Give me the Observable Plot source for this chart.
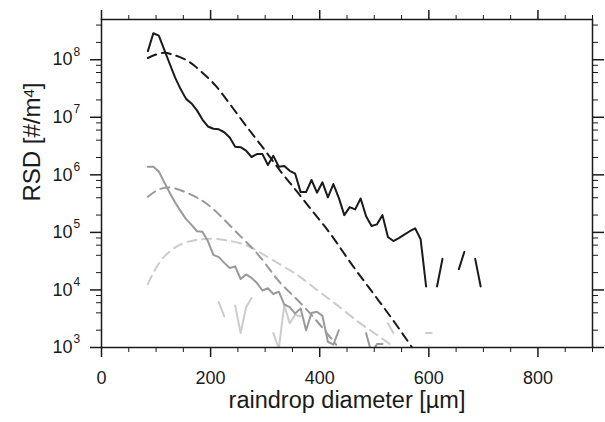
<!DOCTYPE html>
<html><head><meta charset="utf-8">
<script src="https://cdn.jsdelivr.net/npm/d3@7"></script>
<script src="https://cdn.jsdelivr.net/npm/@observablehq/plot@0.6"></script>
<style>body{margin:0;background:#fff;} svg{display:block;font-family:"Liberation Sans",Arial,sans-serif}</style>
</head><body><div id="chart"></div>
<script>
// bin centres (µm)
const diameters = [85,95,105,115,125,135,145,155,165,175,185,195,205,215,225,235,245,255,265,275,285,295,305,315,325,335,345,355,365,375,385,395,405,415,425,435,445,455,465,475,485,495,505,515,525,535,545,555,565,575,585,595,605,615,625,635,645,655,665,675,685,695];
// observed RSD, log10 values (null = no drops)
const obsBlackLog = [8.15,8.46,8.42,8.175,7.93,7.69,7.49,7.32,7.24,7.12,6.96,6.84,6.80,6.79,6.74,6.65,6.49,6.48,6.42,6.31,6.36,6.36,6.17,6.33,6.14,6.155,6.07,6.02,5.70,5.70,5.91,5.69,5.87,5.61,5.84,5.60,5.30,5.44,5.40,5.59,5.28,5.11,5.14,5.30,4.92,4.85,4.90,4.96,5.02,5.07,4.88,4.06,null,4.06,4.54,null,null,4.36,4.66,null,4.54,4.06];
const obsGreyLog = [6.14,6.14,6.06,5.87,5.69,5.52,5.37,5.23,5.13,5.02,5.01,4.85,4.61,4.57,4.47,4.38,4.41,4.19,4.27,4.21,4.12,3.99,4.03,3.93,3.97,3.75,3.70,3.59,3.68,3.30,3.60,3.62,3.55,3.10,3.05,3.30,null,null,null,null,3.25,2.90,3.06,3.06,null,null,null,null,null,null,null,null,null,null,null,null,null,null,null,null,null,null];
const obsLightLog = [null,null,null,null,null,null,null,null,null,null,null,null,null,3.79,3.54,null,3.73,3.25,3.70,3.86,null,null,null,3.25,2.98,3.74,3.42,3.57,3.54,null,null,null,null,null,null,null,null,null,null,null,null,null,null,null,3.42,3.25,null,null,null,null,null,3.25,3.25,null,null,null,null,null,null,null,null,null];
// fitted curves: diameter (µm) and log10 RSD
const fitBlackD = [85,100,115,130,150,170,190,210,240,270,300,330,360,390,420,450,480,510,540,570];
const fitBlackLog = [8.03,8.09,8.12,8.09,8.02,7.90,7.73,7.54,7.17,6.79,6.42,6.04,5.69,5.33,4.97,4.56,4.17,3.79,3.40,2.99];
const fitGreyD = [85,100,126,163,194,224,255,279,304,328,362,400,430];
const fitGreyLog = [5.62,5.72,5.78,5.66,5.49,5.23,4.93,4.70,4.41,4.12,3.80,3.40,3.05];
const fitLightD = [85,108,139,169,200,230,261,291,328,362,395,430,470,500,530];
const fitLightLog = [4.10,4.50,4.76,4.86,4.89,4.86,4.79,4.65,4.44,4.24,4.00,3.75,3.45,3.25,3.05];

const xTicksMajor = [0,200,400,600,800];
const xTicksMinor = [50,100,150,250,300,350,450,500,550,650,700,750,850,900];
const yExponents = [3,4,5,6,7,8];
const yMinorMult = [2,4,6,8];

const black = "#1a1a1a", grey = "#999999", light = "#cccccc";

const obs = (vals) => diameters.map((d,i)=>({d, v: vals[i]==null?null:10**vals[i]}));
const fit = (ds, vals) => ds.map((d,i)=>({d, v:10**vals[i]}));

const yMajor = yExponents.map(e=>10**e);
const yMinor = yExponents.flatMap(e=>yMinorMult.map(m=>m*10**e)).filter(v=>v<=5e8);
const none = () => "";

const font = 18;
const plot = Plot.plot({
  width: 605, height: 422,
  marginLeft: 101, marginRight: 13, marginTop: 19, marginBottom: 75,
  style: {fontFamily: '"Liberation Sans", Arial, sans-serif', fontSize: "18px", background: "#fff"},
  x: {domain: [0, 900]},
  y: {type: "log", domain: [1e3, 5e8]},
  marks: [
    // curves
    Plot.line(fit(fitLightD, fitLightLog), {x:"d", y:"v", stroke: light, strokeWidth: 2, strokeDasharray: "9,6", curve: "natural", clip: true}),
    Plot.line(fit(fitGreyD, fitGreyLog), {x:"d", y:"v", stroke: grey, strokeWidth: 2, strokeDasharray: "9,6", curve: "natural", clip: true}),
    Plot.line(fit(fitBlackD, fitBlackLog), {x:"d", y:"v", stroke: black, strokeWidth: 2, strokeDasharray: "9,6", curve: "natural", clip: true}),
    Plot.line(obs(obsLightLog), {x:"d", y:"v", stroke: light, strokeWidth: 2, clip: true}),
    Plot.line(obs(obsGreyLog), {x:"d", y:"v", stroke: grey, strokeWidth: 2, clip: true}),
    Plot.line(obs(obsBlackLog), {x:"d", y:"v", stroke: black, strokeWidth: 2, clip: true}),
    // frame
    Plot.frame({stroke: black, strokeWidth: 1.5}),
    // axes
    Plot.axisX({anchor:"bottom", ticks: xTicksMajor, tickSize: 10, tickPadding: 14, fontSize: font, label: null, stroke: black, strokeWidth: 1.5, fill: black}),
    Plot.axisX({anchor:"bottom", ticks: xTicksMinor, tickSize: 5, tickFormat: none, label: null, stroke: black}),
    Plot.axisX({anchor:"top", ticks: xTicksMajor, tickSize: 10, tickFormat: none, label: null, stroke: black, strokeWidth: 1.5}),
    Plot.axisX({anchor:"top", ticks: xTicksMinor, tickSize: 5, tickFormat: none, label: null, stroke: black}),
    Plot.axisY({anchor:"left", ticks: yMajor, tickSize: 11, tickFormat: none, label: null, stroke: black, strokeWidth: 1.5}),
    Plot.axisY({anchor:"left", ticks: yMinor, tickSize: 5, tickFormat: none, label: null, stroke: black}),
    Plot.axisY({anchor:"right", ticks: yMajor, tickSize: 11, tickFormat: none, label: null, stroke: black, strokeWidth: 1.5}),
    Plot.axisY({anchor:"right", ticks: yMinor, tickSize: 5, tickFormat: none, label: null, stroke: black}),
    Plot.text(yMajor, {y: d=>d, text: ()=>"10", frameAnchor: "left", textAnchor: "end", dx: -29, fontSize: font, fill: black}),
    Plot.text(yExponents, {y: e=>10**e, text: e=>String(e), frameAnchor: "left", textAnchor: "start", dx: -28, dy: -8, fontSize: 12, fill: black}),
    Plot.text(["raindrop diameter [µm]"], {frameAnchor: "bottom", dy: 60, fontSize: 23.5, fill: black}),
    Plot.text(["RSD [#/m4]"], {frameAnchor: "left", dx: -69, dy: 18, rotate: -90, fontSize: 24, fill: black})
  ]
});
document.getElementById("chart").appendChild(plot);
// superscript the 4 in the y title
d3.select(plot).selectAll("text").filter(function(){return this.textContent === "RSD [#/m4]";})
  .each(function(){
    const t = d3.select(this);
    t.text("");
    t.append("tspan").text("RSD [#/m");
    t.append("tspan").attr("baseline-shift","40%").attr("font-size","15px").text("4");
    t.append("tspan").text("]");
  });
</script></body></html>
